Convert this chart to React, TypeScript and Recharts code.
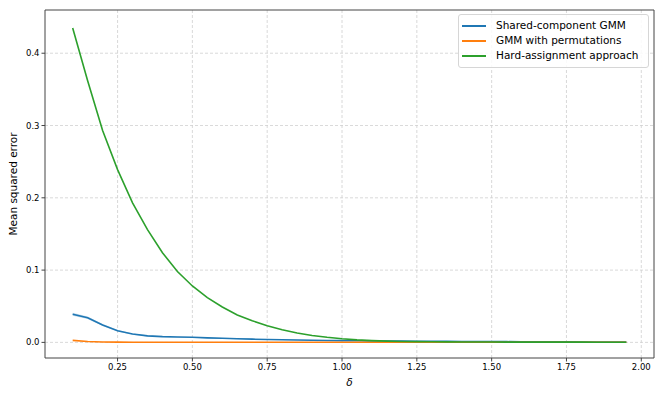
import React from "react";
import {
  ComposedChart,
  Line,
  Area,
  XAxis,
  YAxis,
  CartesianGrid,
  ReferenceArea,
} from "recharts";

const deltas = [
  0.1, 0.15, 0.2, 0.25, 0.3, 0.35, 0.4, 0.45, 0.5, 0.55, 0.6, 0.65, 0.7, 0.75,
  0.8, 0.85, 0.9, 0.95, 1.0, 1.05, 1.1, 1.15, 1.2, 1.25, 1.3, 1.35, 1.4, 1.45,
  1.5, 1.55, 1.6, 1.65, 1.7, 1.75, 1.8, 1.85, 1.9, 1.95,
];

const sharedGMM = [
  0.039, 0.034, 0.024, 0.016, 0.0115, 0.009, 0.008, 0.0075, 0.007, 0.0063,
  0.0057, 0.005, 0.0045, 0.004, 0.0037, 0.0034, 0.003, 0.0027, 0.0024, 0.0022,
  0.002, 0.0019, 0.0018, 0.0016, 0.0015, 0.0014, 0.0013, 0.0012, 0.0011, 0.001,
  0.0009, 0.0008, 0.0008, 0.0007, 0.0006, 0.0006, 0.0005, 0.0005,
];

const sharedGMMSpread = [
  0.002, 0.0017, 0.0013, 0.001, 0.0008, 0.0007, 0.0006, 0.0006, 0.0006, 0.0005,
  0.0005, 0.0005, 0.0004, 0.0004, 0.0004, 0.0004, 0.0003, 0.0003, 0.0003,
  0.0003, 0.0003, 0.0003, 0.0003, 0.0003, 0.0002, 0.0002, 0.0002, 0.0002,
  0.0002, 0.0002, 0.0002, 0.0002, 0.0002, 0.0002, 0.0001, 0.0001, 0.0001,
  0.0001,
];

const permGMM = [
  0.0028, 0.0012, 0.0005, 0.0003, 0.0002, 0.0002, 0.0002, 0.0001, 0.0001,
  0.0001, 0.0001, 0.0001, 0.0001, 0.0001, 0.0001, 0.0001, 0.0001, 0.0001,
  0.0001, 0.0001, 0.0001, 0.0001, 0.0001, 0.0001, 0.0001, 0.0001, 0.0001,
  0.0001, 0.0001, 0.0001, 0.0001, 0.0001, 0.0001, 0.0001, 0.0001, 0.0001,
  0.0001, 0.0001,
];

const hardAssign = [
  0.435, 0.362, 0.293, 0.239, 0.193, 0.156, 0.124, 0.098, 0.078, 0.062, 0.049,
  0.038, 0.03, 0.023, 0.0175, 0.013, 0.0095, 0.007, 0.005, 0.0035, 0.0025,
  0.0018, 0.0013, 0.001, 0.0008, 0.0007, 0.0006, 0.0005, 0.0005, 0.0004,
  0.0004, 0.0003, 0.0003, 0.0003, 0.0003, 0.0002, 0.0002, 0.0002,
];

const xTicks = [0.25, 0.5, 0.75, 1.0, 1.25, 1.5, 1.75, 2.0];
const yTicks = [0, 0.1, 0.2, 0.3, 0.4];

const seriesNames = [
  "Shared-component GMM",
  "GMM with permutations",
  "Hard-assignment approach",
];
const colors = ["#1f77b4", "#ff7f0e", "#2ca02c"];

const X_DOMAIN: [number, number] = [0.0075, 2.0425];
const Y_DOMAIN: [number, number] = [-0.0216, 0.4598];

const data = deltas.map((d, i) => ({
  delta: d,
  shared: sharedGMM[i],
  band: [sharedGMM[i] - sharedGMMSpread[i], sharedGMM[i] + sharedGMMSpread[i]],
  perm: permGMM[i],
  hard: hardAssign[i],
}));

const FONT = "DejaVu Sans, sans-serif";

const LegendBox = () => (
  <div
    style={{
      position: "absolute",
      left: 458,
      top: 14,
      width: 191,
      height: 54,
      border: "1px solid #d6d6d6",
      borderRadius: 3,
      background: "rgba(255,255,255,0.85)",
      fontFamily: FONT,
      fontSize: 10.5,
      color: "#000",
      boxSizing: "border-box",
      paddingTop: 3,
    }}
  >
    {seriesNames.map((n, i) => (
      <div key={n} style={{ display: "flex", alignItems: "center", height: 15 }}>
        <div
          style={{
            width: 24,
            height: 2,
            background: colors[i],
            marginLeft: 3,
            marginRight: 10,
          }}
        />
        <span style={{ whiteSpace: "nowrap", lineHeight: "15px" }}>{n}</span>
      </div>
    ))}
  </div>
);

export default function App() {
  return (
    <div
      style={{
        position: "absolute",
        left: 0,
        top: 0,
        width: 664,
        height: 399,
        background: "#fff",
      }}
    >
      <ComposedChart
        width={664}
        height={399}
        data={data}
        margin={{ top: 10, right: 10, left: 0, bottom: 0 }}
      >
        <CartesianGrid
          stroke="#cfcfcf"
          strokeDasharray="3 2"
          strokeWidth={0.8}
          verticalValues={xTicks}
          horizontalValues={yTicks}
        />
        <XAxis
          dataKey="delta"
          type="number"
          domain={X_DOMAIN}
          ticks={xTicks}
          tickFormatter={(v: number) => v.toFixed(2)}
          allowDataOverflow
          axisLine={false}
          stroke="#444"
          tickSize={3.5}
          height={41}
          tick={{ fontFamily: FONT, fontSize: 8.5, fill: "#000" }}
          label={{
            value: "δ",
            position: "insideBottom",
            offset: 13,
            style: {
              fontFamily: FONT,
              fontSize: 10.5,
              fontStyle: "italic",
              fill: "#000",
            },
          }}
        />
        <YAxis
          type="number"
          domain={Y_DOMAIN}
          ticks={yTicks}
          allowDataOverflow
          axisLine={false}
          tickFormatter={(v: number) => v.toFixed(1)}
          stroke="#444"
          tickSize={3.5}
          width={45}
          tick={{ fontFamily: FONT, fontSize: 8.5, fill: "#000" }}
          label={{
            value: "Mean squared error",
            angle: -90,
            position: "insideLeft",
            offset: 13,
            style: {
              textAnchor: "middle",
              fontFamily: FONT,
              fontSize: 10.5,
              fill: "#000",
            },
          }}
        />
        <Area
          dataKey="band"
          stroke="none"
          fill="#1f77b4"
          fillOpacity={0.25}
          isAnimationActive={false}
          legendType="none"
        />
        <Line
          dataKey="shared"
          name={seriesNames[0]}
          stroke={colors[0]}
          strokeWidth={1.6}
          dot={false}
          isAnimationActive={false}
        />
        <Line
          dataKey="perm"
          name={seriesNames[1]}
          stroke={colors[1]}
          strokeWidth={1.6}
          dot={false}
          isAnimationActive={false}
        />
        <Line
          dataKey="hard"
          name={seriesNames[2]}
          stroke={colors[2]}
          strokeWidth={1.6}
          dot={false}
          isAnimationActive={false}
        />
        <ReferenceArea
          x1={X_DOMAIN[0]}
          x2={X_DOMAIN[1]}
          y1={Y_DOMAIN[0]}
          y2={Y_DOMAIN[1]}
          fill="none"
          fillOpacity={0}
          stroke="#444"
          strokeWidth={1}
          ifOverflow="visible"
        />
      </ComposedChart>
      <LegendBox />
    </div>
  );
}
